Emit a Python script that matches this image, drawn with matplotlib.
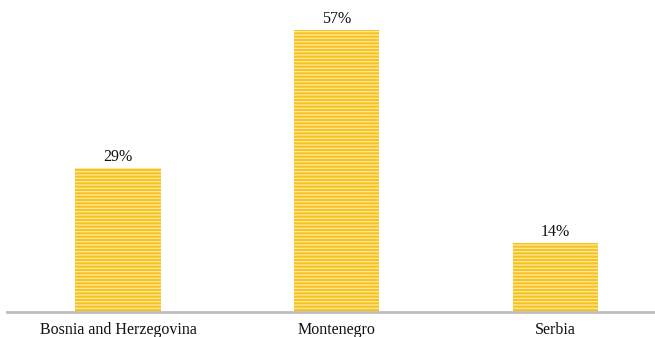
import matplotlib
matplotlib.use("Agg")
import matplotlib.pyplot as plt

countries = ["Bosnia and Herzegovina", "Montenegro", "Serbia"]
shares = [29, 57, 14]

plt.rcParams['font.family'] = ['Liberation Serif', 'DejaVu Serif']
plt.rcParams['hatch.linewidth'] = 0.9

fig = plt.figure(figsize=(6.55, 3.37), dpi=100)
ax = fig.add_axes([7/655, 25/337, 648/655, 297/337])

x = range(len(countries))
bars = ax.bar(x, shares, width=0.39, color='#F7C21B', edgecolor='#FDE9A6',
              linewidth=0, hatch='-----')

for b, v in zip(bars, shares):
    ax.text(b.get_x() + b.get_width()/2, v + 0.6, f"{v}%", ha='center', va='bottom',
            fontsize=11.5, color='#111111')

ax.set_xlim(-0.508, 2.455)
ax.set_ylim(0, 60)
ax.set_yticks([])
ax.set_xticks(list(x))
ax.set_xticklabels(countries, fontsize=11.5, color='#111111')
ax.tick_params(axis='x', length=0, pad=7)
for s in ['top', 'right', 'left']:
    ax.spines[s].set_visible(False)
ax.spines['bottom'].set_color('#BFBFBF')
ax.spines['bottom'].set_linewidth(2)

fig.savefig("out.png", dpi=100)
